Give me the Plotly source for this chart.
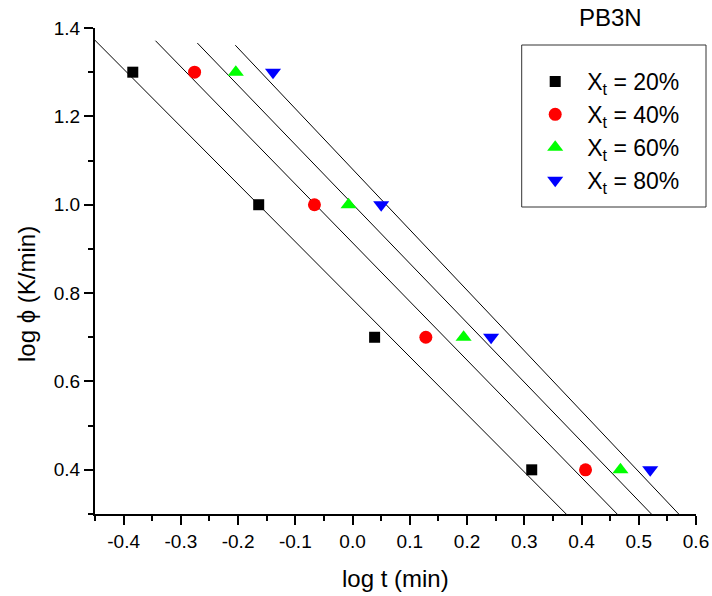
import numpy as np
import plotly.graph_objects as go

# ---- data ----
log_phi = [1.3, 1.0, 0.7, 0.4]
logt_20 = [-0.384, -0.164, 0.0385, 0.313]
logt_40 = [-0.276, -0.0666, 0.128, 0.407]
logt_60 = [-0.204, -0.007, 0.194, 0.468]
logt_80 = [-0.139, 0.050, 0.242, 0.520]
series_names = ["X<sub>t</sub> = 20%", "X<sub>t</sub> = 40%", "X<sub>t</sub> = 60%", "X<sub>t</sub> = 80%"]
x_tickvals = [-0.4, -0.3, -0.2, -0.1, 0.0, 0.1, 0.2, 0.3, 0.4, 0.5, 0.6]
x_ticktext = ["-0.4", "-0.3", "-0.2", "-0.1", "0.0", "0.1", "0.2", "0.3", "0.4", "0.5", "0.6"]
y_tickvals = [0.4, 0.6, 0.8, 1.0, 1.2, 1.4]
y_ticktext = ["0.4", "0.6", "0.8", "1.0", "1.2", "1.4"]

# ---- styles ----
colors = ["#000000", "#FF0000", "#00FF00", "#0000FF"]
symbols = ["square", "circle", "triangle-up", "triangle-down"]
sizes = [11, 13, 14, 14]
FIT_EXT = 0.10  # fit line extends 10% of the data span on each side
FONT = "Liberation Sans, Arial, sans-serif"

# page size (slightly wider to match the screenshot's horizontal scale)
W, H = 721, 596
K = W / 712.0
ML, MR, MT, MB = 94 * K, 17 * K, 28, 82
PW, PH = W - ML - MR, H - MT - MB


def px_x(px):
    return (px * K - ML) / PW


def px_y(py):
    return (H - MB - py) / PH


fig = go.Figure()
all_x = [logt_20, logt_40, logt_60, logt_80]

# linear fit lines
for xs in all_x:
    k, b = np.polyfit(xs, log_phi, 1)
    span = max(xs) - min(xs)
    lx = np.array([min(xs) - FIT_EXT * span, max(xs) + FIT_EXT * span])
    fig.add_trace(go.Scatter(x=lx, y=k * lx + b, mode="lines",
                             line=dict(color="black", width=1),
                             showlegend=False, hoverinfo="skip"))

# data points
for i, xs in enumerate(all_x):
    fig.add_trace(go.Scatter(x=xs, y=log_phi, mode="markers", name=series_names[i],
                             legendgroup=f"g{i}",
                             marker=dict(symbol=symbols[i], size=sizes[i], color=colors[i],
                                         line=dict(width=0))))

axis_common = dict(showline=True, linecolor="black", linewidth=2, ticks="outside",
                   ticklen=9, tickwidth=2, tickcolor="black", showgrid=False, zeroline=False,
                   mirror=False, tickfont=dict(family=FONT, size=19, color="black"))

fig.update_xaxes(range=[-0.45, 0.6], tickmode="array", tickvals=x_tickvals, ticktext=x_ticktext,
                 minor=dict(ticks="outside", ticklen=5, tickwidth=2, tickcolor="black",
                            tickmode="linear", tick0=0, dtick=0.05, showgrid=False),
                 **axis_common)
fig.update_yaxes(range=[0.3, 1.4], tickmode="array", tickvals=y_tickvals, ticktext=y_ticktext,
                 minor=dict(ticks="outside", ticklen=5, tickwidth=2, tickcolor="black",
                            tickmode="linear", tick0=0, dtick=0.1, showgrid=False),
                 **axis_common)

fig.update_layout(
    width=W, height=H,
    margin=dict(l=ML, r=MR, t=MT, b=MB),
    plot_bgcolor="white", paper_bgcolor="white",
    font=dict(family=FONT, color="black"),
    legend=dict(x=px_x(522.2), y=px_y(60), xanchor="left", yanchor="top",
                bgcolor="rgba(0,0,0,0)", borderwidth=0,
                font=dict(family=FONT, size=23, color="black"),
                itemwidth=54, tracegroupgap=0),
    shapes=[dict(type="rect", xref="paper", yref="paper",
                 x0=px_x(520.7), x1=px_x(705), y0=px_y(207), y1=px_y(45),
                 line=dict(color="#333333", width=1), fillcolor="white", layer="below")],
    annotations=[
        dict(text="log t (min)", xref="paper", yref="paper", x=px_x(394.5), y=px_y(578),
             xanchor="center", yanchor="middle", showarrow=False,
             font=dict(family=FONT, size=24, color="black")),
        dict(text="log \u03d5 (K/min)", xref="paper", yref="paper", x=px_x(25), y=px_y(294),
             xanchor="center", yanchor="middle", textangle=-90, showarrow=False,
             font=dict(family=FONT, size=24, color="black")),
        dict(text="PB3N", xref="paper", yref="paper", x=px_x(610), y=px_y(18),
             xanchor="center", yanchor="middle", showarrow=False,
             font=dict(family=FONT, size=24, color="black")),
    ],
)

fig.write_html(
    "out.html", config={"displayModeBar": False},
    post_script=("document.body.style.margin='0';"
                 "document.body.style.overflow='hidden';"
                 "document.documentElement.style.overflow='hidden';"))
